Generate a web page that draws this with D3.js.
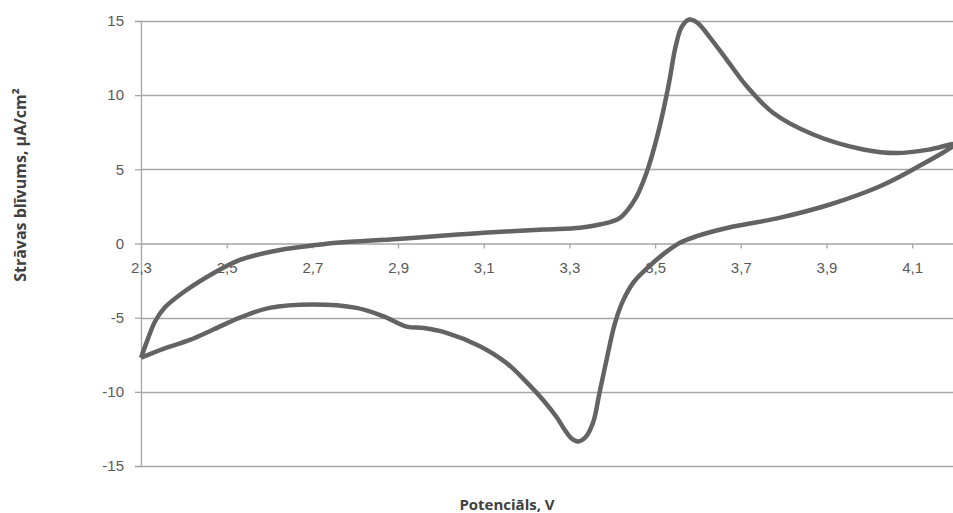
<!DOCTYPE html>
<html>
<head>
<meta charset="utf-8">
<script src="https://cdn.jsdelivr.net/npm/d3@7"></script>
<style>
  body { margin: 0; background: #fff; }
  svg { display: block; font-family: "Open Sans", "Noto Sans", sans-serif; }
</style>
</head>
<body>
<div id="chart"></div>
<script>
// cyclic voltammogram: forward scan 2.3 -> 4.2 V, then back to 2.3 V
const potential = [
  2.30, 2.317, 2.333, 2.356, 2.403, 2.469, 2.531, 2.609, 2.687, 2.757, 2.90, 3.04, 3.10,
  3.24, 3.325, 3.371, 3.418, 3.453, 3.48, 3.507, 3.531, 3.548, 3.562, 3.58, 3.60, 3.625,
  3.667, 3.714, 3.776, 3.869, 3.986, 4.064, 4.141, 4.20,
  4.102, 4.025, 3.908, 3.79, 3.67, 3.597, 3.558, 3.52, 3.48, 3.45, 3.426, 3.406,
  3.387, 3.37, 3.356, 3.338, 3.32, 3.305, 3.29, 3.27, 3.24, 3.205, 3.153, 3.091, 3.013,
  2.96, 2.92, 2.865, 2.803, 2.70, 2.60, 2.531, 2.469, 2.414, 2.352, 2.30
]
const current = [
  -7.7, -6.36, -5.24, -4.3, -3.2, -2.0, -1.1, -0.52, -0.18, 0.05, 0.3, 0.6, 0.72,
  0.94, 1.06, 1.28, 1.73, 2.97, 4.77, 7.46, 10.6, 13.3, 14.6, 15.1, 14.85, 14.0,
  12.4, 10.6, 8.8, 7.35, 6.34, 6.1, 6.34, 6.7,
  4.99, 3.86, 2.63, 1.73, 1.06, 0.49, 0.05, -0.7, -1.7, -2.6, -3.8, -5.4,
  -7.8, -10.1, -12.0, -13.05, -13.35, -13.15, -12.6, -11.7, -10.6, -9.5, -8.05, -6.92, -6.02,
  -5.7, -5.6, -4.9, -4.34, -4.11, -4.34, -5.0, -5.8, -6.5, -7.1, -7.7
]
const xTicks = [2.3, 2.5, 2.7, 2.9, 3.1, 3.3, 3.5, 3.7, 3.9, 4.1]
const yTicks = [-15, -10, -5, 0, 5, 10, 15]
const xTitle = "Potenciāls, V"
const yTitle = "Strāvas blīvums, µA/cm²"

const canvasWidth = 953
const canvasHeight = 513
const margin = {top: 21, right: -2, bottom: 47, left: 141}
const width = canvasWidth - margin.left - margin.right
const height = canvasHeight - margin.top - margin.bottom

const svg = d3.select("#chart")
    .append("svg")
    .attr("width", canvasWidth)
    .attr("height", canvasHeight)

const g = svg.append("g")
    .attr("transform", "translate(" + margin.left + "," + margin.top + ")")

const x = d3.scaleLinear().domain([2.3, 4.2]).range([0, width])
const y = d3.scaleLinear().domain([-15, 15]).range([height, 0])

const gridColor = "#a6a6a6"
const textColor = "#595959"

// horizontal gridlines
g.append("g")
    .selectAll("line")
    .data(yTicks.filter(d => d !== 0))
    .enter()
    .append("line")
    .attr("x1", 0)
    .attr("x2", width)
    .attr("y1", d => Math.round(y(d)) + 0.5)
    .attr("y2", d => Math.round(y(d)) + 0.5)
    .attr("stroke", gridColor)
    .attr("stroke-width", 1.3)

// y axis
const yAxis = g.append("g")
    .call(d3.axisLeft(y).tickValues(yTicks).tickSize(6).tickPadding(11).tickFormat(d => String(d)))
yAxis.select(".domain").attr("stroke", gridColor).attr("stroke-width", 1.3)
yAxis.selectAll(".tick line").attr("stroke", gridColor).attr("stroke-width", 1.3)
yAxis.selectAll(".tick text").attr("fill", textColor).style("font-size", "15px")

// x axis sits at zero current
const xAxis = g.append("g")
    .attr("transform", "translate(0," + y(0) + ")")
    .call(d3.axisBottom(x).tickValues(xTicks).tickSize(5).tickPadding(14)
        .tickSizeOuter(0)
        .tickFormat(d => d3.format(".1f")(d).replace(".", ",")))
xAxis.select(".domain").attr("stroke", gridColor).attr("stroke-width", 1.3)
xAxis.selectAll(".tick line").attr("stroke", gridColor).attr("stroke-width", 1.3)
xAxis.selectAll(".tick text").attr("fill", textColor).style("font-size", "15px")

// the curve
const points = potential.map((p, i) => [p, current[i]])
const line = d3.line()
    .x(d => x(d[0]))
    .y(d => y(d[1]))
    .curve(d3.curveCatmullRom.alpha(0.5))

g.append("path")
    .datum(points)
    .attr("fill", "none")
    .attr("stroke", "#636363")
    .attr("stroke-width", 4.5)
    .attr("stroke-linejoin", "round")
    .attr("d", line)

// axis titles
svg.append("text")
    .attr("x", 507)
    .attr("y", 510)
    .attr("text-anchor", "middle")
    .attr("fill", "#404040")
    .style("font-size", "15px")
    .style("font-weight", "bold")
    .text(xTitle)

svg.append("text")
    .attr("transform", "translate(26,185) rotate(-90)")
    .attr("text-anchor", "middle")
    .attr("fill", "#404040")
    .style("font-size", "16px")
    .style("font-weight", "bold")
    .text(yTitle)
</script>
</body>
</html>
